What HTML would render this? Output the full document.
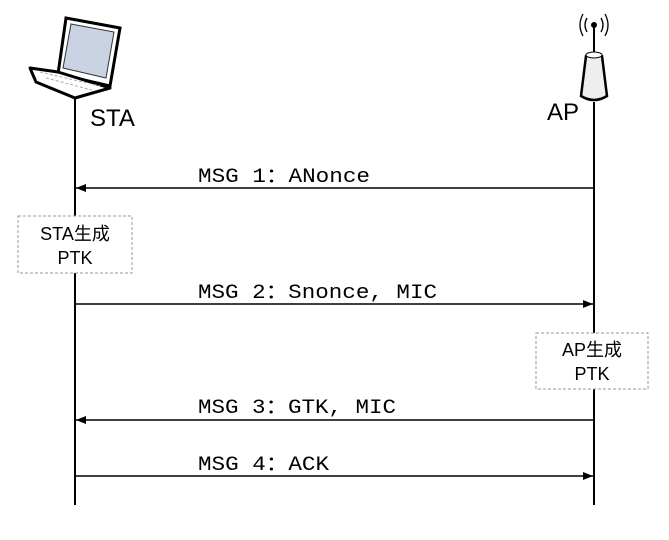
<!DOCTYPE html>
<html><head><meta charset="utf-8"><style>
body{margin:0;background:#fff;width:669px;height:535px;overflow:hidden}
</style></head><body>
<svg width="669" height="535" xmlns="http://www.w3.org/2000/svg">
<defs><marker id="a" markerWidth="10" markerHeight="8" refX="10" refY="4" orient="auto" markerUnits="userSpaceOnUse"><path d="M0,0 L10,4 L0,8 Z" fill="#000"/></marker></defs>
<!-- laptop -->
<path d="M66,18 L120,28 L110,86 L58,74 Z" fill="#fff" stroke="#000" stroke-width="3"/>
<path d="M71,24 L114,32 L106,78 L63,68 Z" fill="#c9d3e3" stroke="#333" stroke-width="1"/>
<path d="M58,72 L30,68 L36,82 L75,98 L110,88 Z" fill="#fff" stroke="#000" stroke-width="3" stroke-linejoin="round"/>
<path d="M40,72 L100,86 M46,78 L92,90" stroke="#aaa" stroke-dasharray="3,2"/>
<!-- AP -->
<circle cx="594" cy="25" r="3" fill="#000"/>
<path d="M587,18 Q583,25 587,32 M601,18 Q605,25 601,32 M583,14 Q577,25 583,36 M605,14 Q611,25 605,36" stroke="#000" fill="none" stroke-width="1.3"/>
<line x1="594" y1="25" x2="594" y2="55" stroke="#000" stroke-width="2"/>
<path d="M586,56 Q594,51 602,56 L607,96 Q594,104 581,96 Z" fill="#eee" stroke="#000" stroke-width="2.5"/>
<ellipse cx="594" cy="55" rx="8" ry="3" fill="#fff" stroke="#000"/>
<!-- lifelines -->
<line x1="75" y1="97" x2="75" y2="505" stroke="#000" stroke-width="2"/>
<line x1="594" y1="102" x2="594" y2="505" stroke="#000" stroke-width="2"/>
<g font-family="Liberation Sans, sans-serif" font-size="24" fill="#000">
<text x="90" y="126">STA</text><text x="547" y="120">AP</text></g>
<g stroke="#000" stroke-width="1.5" marker-end="url(#a)">
<line x1="594" y1="188" x2="76" y2="188"/>
<line x1="75" y1="304" x2="593" y2="304"/>
<line x1="594" y1="420" x2="76" y2="420"/>
<line x1="75" y1="476" x2="593" y2="476"/>
</g>
<g font-family="Liberation Mono, 'Noto Sans CJK SC', monospace" font-size="20" fill="#000">
<text x="198" y="182" textLength="172" lengthAdjust="spacingAndGlyphs">MSG 1：ANonce</text>
<text x="198" y="298" textLength="239" lengthAdjust="spacingAndGlyphs">MSG 2：Snonce, MIC</text>
<text x="198" y="413" textLength="198" lengthAdjust="spacingAndGlyphs">MSG 3：GTK, MIC</text>
<text x="198" y="470" textLength="131" lengthAdjust="spacingAndGlyphs">MSG 4：ACK</text>
</g>
<rect x="18" y="216" width="114" height="57" fill="#fff" stroke="#999" stroke-dasharray="3,2"/>
<rect x="536" y="333" width="112" height="56" fill="#fff" stroke="#999" stroke-dasharray="3,2"/>
<g font-family="Liberation Sans, 'Noto Sans CJK SC', sans-serif" font-size="18" fill="#000" text-anchor="middle">
<text x="75" y="240">STA生成</text><text x="75" y="264">PTK</text>
<text x="592" y="356">AP生成</text><text x="592" y="380">PTK</text>
</g>
</svg>
</body></html>
